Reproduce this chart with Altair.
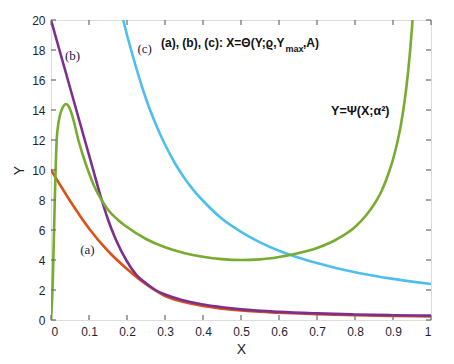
import altair as alt
import pandas as pd

# ---- tick labels ----
x_ticks = [0, 0.1, 0.2, 0.3, 0.4, 0.5, 0.6, 0.7, 0.8, 0.9, 1]
y_ticks = [0, 2, 4, 6, 8, 10, 12, 14, 16, 18, 20]

# ---- series ----
a_x = [0, 0.05, 0.1, 0.15, 0.2, 0.25, 0.3, 0.35, 0.4, 0.45, 0.5, 0.6, 0.7, 0.8, 0.9, 1.0]
a_y = [10, 7.95, 6.1, 4.6, 3.4, 2.38, 1.6, 1.2, 0.93, 0.76, 0.63, 0.48, 0.39, 0.32, 0.27, 0.24]

b_x = [0, 0.03, 0.06, 0.09, 0.11, 0.13, 0.15, 0.17, 0.2, 0.225, 0.25, 0.275, 0.3, 0.35,
       0.4, 0.45, 0.5, 0.6, 0.7, 0.8, 0.9, 1.0]
b_y = [20, 17.3, 14.6, 11.9, 10.1, 8.3, 6.7, 5.4, 3.9, 3.0, 2.45, 2.0, 1.7, 1.3,
       1.03, 0.85, 0.71, 0.54, 0.44, 0.37, 0.32, 0.29]

c_x = [0.185, 0.19, 0.2, 0.212, 0.225, 0.24, 0.26, 0.28, 0.3, 0.325, 0.35, 0.375, 0.4,
       0.45, 0.5, 0.55, 0.6, 0.65, 0.7, 0.75, 0.8, 0.85, 0.9, 0.95, 1.0]
c_y = [20.5, 20, 19.0, 17.9, 16.75, 15.5, 14.05, 12.8, 11.7, 10.5, 9.5, 8.66, 7.95,
       6.75, 5.88, 5.18, 4.62, 4.17, 3.8, 3.47, 3.19, 2.95, 2.74, 2.56, 2.4]

psi_x = [0, 0.004, 0.01, 0.015, 0.02, 0.028, 0.034, 0.039, 0.045, 0.05, 0.055, 0.06,
         0.072, 0.085, 0.1, 0.115, 0.133, 0.15, 0.175, 0.2, 0.25, 0.3, 0.35, 0.4, 0.45,
         0.5, 0.55, 0.6, 0.65, 0.7, 0.75, 0.8, 0.83, 0.85, 0.87, 0.89, 0.9, 0.91, 0.92,
         0.93, 0.94, 0.95, 0.96]
psi_y = [0, 2, 8, 12, 13.2, 14.0, 14.3, 14.4, 14.3, 14.05, 13.7, 13.25,
         12.0, 10.9, 9.8, 8.85, 8.0, 7.35, 6.7, 6.2, 5.4, 4.85, 4.47, 4.22, 4.06,
         4.0, 4.04, 4.2, 4.45, 4.8, 5.35, 6.2, 7.0, 7.7, 8.6, 9.9, 10.7, 11.7, 12.9,
         14.5, 16.6, 19.5, 23.5]

series_names = ["a", "b", "c", "psi"]
series_colors = ["#D95319", "#7E2F8E", "#4DBEEE", "#77AC30"]

# annotations
lab_text = ["(b)", "(c)", "(a)"]
lab_x = [0.0566, 0.2466, 0.096]
lab_y = [17.6, 18.07, 4.65]

title_parts = ["(a), (b), (c): X=\u0398(Y;\u03f1,Y", "max", ",A)"]
title_x = [0.2895, 0.617, 0.663]
title_y = [18.17, 17.87, 18.17]
title_sizes = [12, 9, 12]

psi_text = ["Y=\u03a8(X;\u03b1\u00b2)"]
psi_lx = [0.737]
psi_ly = [13.93]

W, H = 380, 300
INK = "#1f1f33"
FRAME = "#6a6a6a"

def frame(xs, ys, name):
    return pd.DataFrame({"x": xs, "y": ys, "s": name})

curves = pd.concat([
    frame(a_x, a_y, "a"),
    frame(b_x, b_y, "b"),
    frame(c_x, c_y, "c"),
    frame(psi_x, psi_y, "psi"),
])

xs = alt.Scale(domain=[0, 1], nice=False, zero=False)
ys = alt.Scale(domain=[0, 20], nice=False, zero=False)

x_axis = alt.Axis(values=x_ticks, format="~g", title="X", grid=False, domain=False,
                  ticks=False, labelPadding=6, titlePadding=5, labelFontSize=12,
                  titleFontSize=14, titleFontWeight="normal", labelColor=INK,
                  titleColor=INK, labelFont="Liberation Sans", titleFont="Liberation Sans")
y_axis = alt.Axis(values=y_ticks, format="~g", title="Y", grid=False, domain=False,
                  ticks=False, labelPadding=6, titlePadding=5, labelFontSize=12,
                  titleFontSize=14, titleFontWeight="normal", labelColor=INK,
                  titleColor=INK, labelFont="Liberation Sans", titleFont="Liberation Sans")

X = alt.X("x:Q", scale=xs, axis=x_axis)
Y = alt.Y("y:Q", scale=ys, axis=y_axis)

lines = []
for name, col in zip(series_names, series_colors):
    lines.append(
        alt.Chart(curves[curves["s"] == name]).mark_line(
            color=col, strokeWidth=2.6, interpolate="monotone", clip=True
        ).encode(x=X, y=Y, order=alt.Order("x:Q"))
    )

xt = pd.DataFrame({"x": x_ticks})
yt = pd.DataFrame({"y": y_ticks})
tick_style = dict(color=FRAME, strokeWidth=1.2)
ticks = [
    alt.Chart(xt).mark_rule(**tick_style).encode(x=X, y=alt.value(H), y2=alt.value(H - 5)),
    alt.Chart(xt).mark_rule(**tick_style).encode(x=X, y=alt.value(0), y2=alt.value(5)),
    alt.Chart(yt).mark_rule(**tick_style).encode(y=Y, x=alt.value(0), x2=alt.value(5)),
    alt.Chart(yt).mark_rule(**tick_style).encode(y=Y, x=alt.value(W), x2=alt.value(W - 5)),
]

labs = alt.Chart(pd.DataFrame({"x": lab_x, "y": lab_y, "t": lab_text})).mark_text(
    font="Liberation Serif", fontSize=13, color="#22224a", align="center", baseline="middle"
).encode(x=X, y=Y, text="t:N")

tdf = pd.DataFrame({"x": title_x, "y": title_y, "t": title_parts, "fs": title_sizes})
title_txt = alt.Chart(tdf).mark_text(
    font="Liberation Sans", fontWeight="bold", color="#111111", align="left",
    baseline="alphabetic"
).encode(x=X, y=Y, text="t:N", size=alt.Size("fs:Q", scale=None, legend=None))

psi_lab = alt.Chart(pd.DataFrame({"x": psi_lx, "y": psi_ly, "t": psi_text})).mark_text(
    font="Liberation Sans", fontWeight="bold", fontSize=12.5, color="#111111",
    align="left", baseline="middle"
).encode(x=X, y=Y, text="t:N")

chart = alt.layer(*lines, *ticks, labs, title_txt, psi_lab).properties(
    width=W, height=H,
    autosize=alt.AutoSizeParams(type="none"),
    padding={"left": 43, "top": 12, "right": 15, "bottom": 36},
).configure_view(stroke=FRAME, strokeWidth=1.5).configure(background="white")

chart.save("out.html", embed_options={"renderer": "svg", "actions": False})
